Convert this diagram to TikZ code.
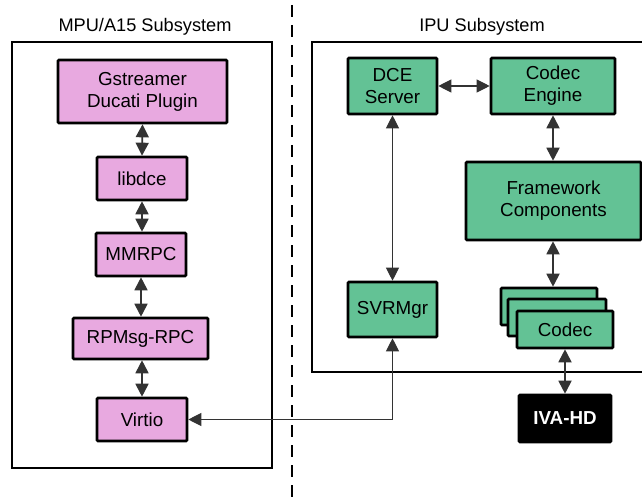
\documentclass[tikz,border=0pt]{standalone}
\usepackage{fontspec}
\setmainfont{Liberation Sans}
\usetikzlibrary{arrows.meta}
\definecolor{pinkfill}{HTML}{E8A9E0}
\definecolor{greenfill}{HTML}{63C295}
\tikzset{
  blk/.style={draw=black, line width=2.6pt, rounded corners=1pt, inner sep=0pt, align=center,
    font=\fontsize{18.8}{22}\selectfont},
  pk/.style={blk, fill=pinkfill},
  gr/.style={blk, fill=greenfill},
  sub/.style={draw=black, line width=2.4pt},
  title/.style={font=\fontsize{18.2}{20}\selectfont, inner sep=0pt},
  tip/.tip={Triangle[length=13pt,width=13pt]},
  thk/.style={line width=1.8pt, tip-tip, draw=black!80},
  thn/.style={line width=1.1pt, tip-tip, draw=black!80},
}
\begin{document}
\begin{tikzpicture}[x=1pt,y=-1pt]
\useasboundingbox (0,0) rectangle (642,497);
% subsystems
\draw[sub] (12,42) rectangle (272,468);
\draw[sub] (312,42) rectangle (660,372);
\node[title] (t1) at (145,27) {MPU/A15 Subsystem};
\node[title] (t2) at (482,27) {IPU Subsystem};
\coordinate (d1) at (292,5);
\coordinate (d2) at (292,497);
\draw[line width=2.4pt, dash pattern=on 12pt off 8pt] (d1) -- (d2);
% left stack
\node[pk, minimum width=169pt, minimum height=63pt] (gst) at (142.5,91.5) {Gstreamer\\Ducati Plugin};
\node[pk, minimum width=90pt, minimum height=43pt] (lib) at (142,178.5) {libdce};
\node[pk, minimum width=90pt, minimum height=43pt] (mm) at (141,254.5) {MMRPC};
\node[pk, minimum width=135pt, minimum height=41pt] (rp) at (140.5,338.5) {RPMsg-RPC};
\node[pk, minimum width=90pt, minimum height=43pt] (vi) at (142,419.5) {Virtio};
\draw[thk] (gst.south) -- (lib.north);
\draw[thk] (lib.south) -- (lib.south |- mm.north);
\draw[thk] (mm.south) -- (mm.south |- rp.north);
\draw[thk] (vi.north |- rp.south) -- (vi.north);
% right
\node[gr, minimum width=89pt, minimum height=56pt] (dce) at (392.5,86) {DCE\\Server};
\node[gr, minimum width=124pt, minimum height=56pt] (ce) at (553,86) {Codec\\Engine};
\node[gr, minimum width=175pt, minimum height=78pt] (fc) at (553.5,201) {Framework\\Components};
\node[gr, minimum width=89pt, minimum height=55pt] (svr) at (392.5,309.5) {SVRMgr};
\node[gr, minimum width=96pt, minimum height=37pt] (c3) at (549,306.5) {};
\node[gr, minimum width=98pt, minimum height=37pt] (c2) at (557,317.5) {};
\node[gr, minimum width=96pt, minimum height=37pt] (c1) at (565,329.5) {Codec};
\node[blk, fill=black, text=white, font=\fontsize{18.8}{22}\selectfont\bfseries, minimum width=92pt, minimum height=47pt] (iva) at (565,418.5) {IVA-HD};
\draw[thn] (dce.east) -- (ce.west);
\draw[thk] (ce.south) -- (ce.south |- fc.north);
\draw[thk] (ce.south |- fc.south) -- (ce.south |- c3.north);
\draw[thn] (dce.south) -- (svr.north);
\draw[thk] (c1.south) -- (iva.north);
\draw[thn] (svr.south) |- (vi.east);
\end{tikzpicture}
\end{document}
